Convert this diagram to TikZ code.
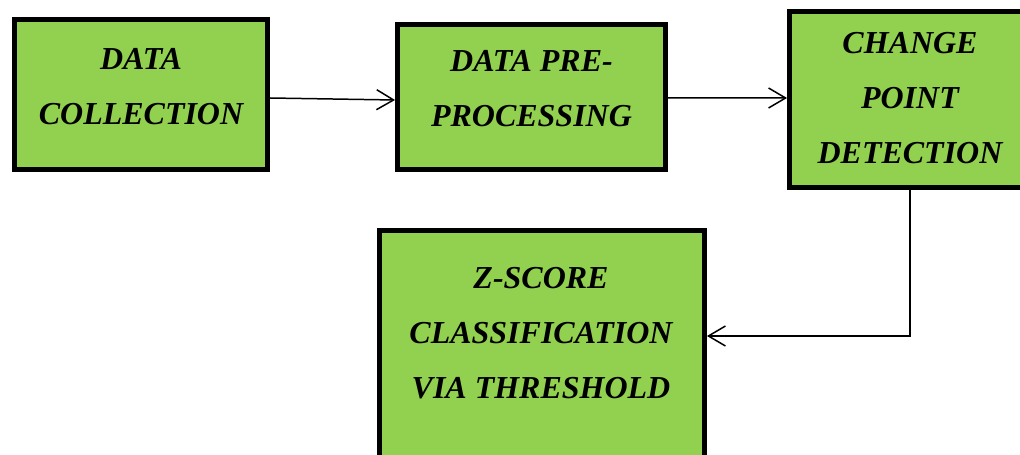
\documentclass[tikz,border=0pt]{standalone}
\usepackage{fontspec}
\setmainfont{Liberation Serif}
\usetikzlibrary{arrows.meta}
\definecolor{stagegreen}{HTML}{92D050}

\begin{document}
\begin{tikzpicture}[
    >={Straight Barb[length=0.34cm, width=0.4cm]},
    stagebox/.style={draw, line width=2.8pt, fill=stagegreen, align=center,
      font=\fontsize{18.2}{31.3}\selectfont\bfseries\itshape},
    flow/.style={->, line width=0.85pt}
  ]
  % page size
  \useasboundingbox (0,0) rectangle (20.4,-9.1);

  % first row of stages
  \node[stagebox, minimum width=5.06cm, minimum height=3.0cm, text depth=0.33cm] (dc) at (2.82,-1.89)
    {DATA\\COLLECTION};
  \node[stagebox, minimum width=5.36cm, minimum height=2.9cm, text depth=0.33cm] (dpp) at (10.63,-1.94)
    {DATA PRE-\\PROCESSING};
  \node[stagebox, minimum width=4.82cm, minimum height=3.52cm, text depth=0.08cm] (cpd) at (18.2,-1.99)
    {CHANGE\\POINT\\DETECTION};

  % last stage (runs past the lower edge)
  \node[stagebox, minimum width=6.5cm, minimum height=5.0cm, anchor=north] (zsc) at (10.84,-4.57) {};
  \node[align=center, font=\fontsize{18.2}{31.3}\selectfont\bfseries\itshape] (zsctext) at (10.82,-6.66)
    {Z-SCORE\\CLASSIFICATION\\VIA THRESHOLD};

  % connectors
  \draw[flow] ([yshift=-0.07cm]dc.east) -- ([yshift=-0.06cm]dpp.west);
  \draw[flow] ([yshift=-0.02cm]dpp.east) -- ([yshift=0.03cm]cpd.west);
  \draw[flow] (cpd.south) |- ([yshift=-0.06cm]zsctext -| zsc.east);

\end{tikzpicture}
\end{document}
